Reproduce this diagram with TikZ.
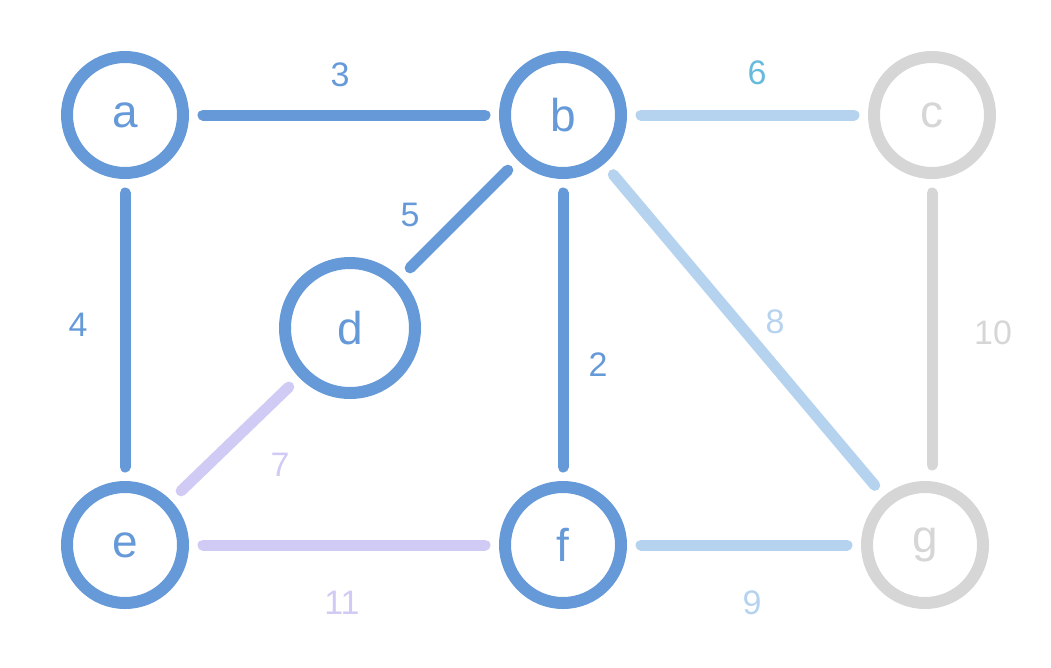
\documentclass[tikz,border=0pt]{standalone}
\usepackage{fontspec}
\setmainfont{Liberation Sans}
\begin{document}
\begin{tikzpicture}[x=1pt,y=-1pt,
  vtx/.style={circle,draw,line width=12pt,minimum size=116pt,inner sep=0pt,font=\fontsize{46}{46}\selectfont},
  edg/.style={line width=11pt,line cap=round,shorten <=14pt,shorten >=14pt},
  lbl/.style={font=\fontsize{34}{34}\selectfont}]
\definecolor{dblue}{HTML}{6699D8}
\definecolor{lblue}{HTML}{B5D3EE}
\definecolor{lgray}{HTML}{D6D6D6}
\definecolor{lav}{HTML}{D0CBF5}
\definecolor{teal6}{HTML}{66BBDD}
\useasboundingbox (0,0) rectangle (1051,667);
\node[vtx,dblue,text=dblue] (a) at (125,115) {a};
\node[vtx,dblue,text=dblue] (b) at (563,115) {b};
\node[vtx,lgray,text=lgray] (c) at (932,115) {c};
\node[vtx,dblue,text=dblue,minimum size=130pt] (d) at (350,328) {d};
\node[vtx,dblue,text=dblue] (e) at (125,545) {e};
\node[vtx,dblue,text=dblue] (f) at (563,545) {f};
\node[vtx,lgray,text=lgray] (g) at (925,545) {g};
\draw[edg,dblue] (a) -- (b);
\draw[edg,dblue] (a) -- (e);
\draw[edg,dblue] (b) -- (d);
\draw[edg,dblue] (b) -- (f);
\draw[edg,lblue] (b) -- (c);
\draw[edg,lblue] (b) -- (g);
\draw[edg,lgray,shorten >=80pt] (c) -- (c |- g);
\draw[edg,lav] (d) -- (e);
\draw[edg,lav] (e) -- (f);
\draw[edg,lblue] (f) -- (g);
\node[lbl,dblue] (l3) at (340,75) {3};
\node[lbl,dblue] (l4) at (78,325) {4};
\node[lbl,dblue] (l5) at (410,215) {5};
\node[lbl,dblue] (l2) at (598,365) {2};
\node[lbl,teal6] (l6) at (757,73) {6};
\node[lbl,lblue] (l8) at (775,322) {8};
\node[lbl,lgray] (l10) at (993,333) {10};
\node[lbl,lav] (l7) at (280,465) {7};
\node[lbl,lav] (l11) at (342,603) {11};
\node[lbl,lblue] (l9) at (752,603) {9};
\end{tikzpicture}
\end{document}
